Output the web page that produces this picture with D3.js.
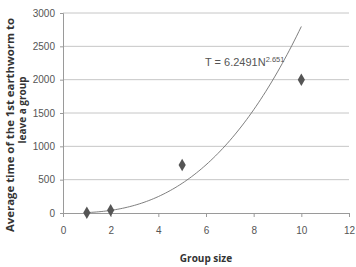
<!DOCTYPE html>
<html>
<head>
<meta charset="utf-8">
<script src="https://cdn.jsdelivr.net/npm/d3@7/dist/d3.min.js"></script>
<style>
  body { margin: 0; background: #fff; }
  text { font-family: "Liberation Sans", Arial, sans-serif; }
</style>
</head>
<body>
<svg id="chart" width="356" height="267"></svg>
<script>
// data
var groupSize = [1, 2, 5, 10];
var avgTime = [5, 40, 720, 2000];
var xTicks = [0, 2, 4, 6, 8, 10, 12];
var yTicks = [0, 500, 1000, 1500, 2000, 2500, 3000];
// power fit T = a * N^b
var fitA = 6.2491;
var fitB = 2.651;
var fitRange = [1, 10];

var svg = d3.select("#chart");

var x = d3.scaleLinear().domain([0, 12]).range([63, 349]);
var y = d3.scaleLinear().domain([0, 3000]).range([213, 13]);

// gridlines
svg.selectAll("line.grid")
   .data(yTicks.slice(1))
   .enter()
   .append("line")
   .attr("class", "grid")
   .attr("x1", x(0)).attr("x2", x(12))
   .attr("y1", function(d) { return y(d); })
   .attr("y2", function(d) { return y(d); })
   .attr("stroke", "#c6c6c6")
   .attr("stroke-width", 1);

// y axis
var yAxis = svg.append("g")
   .attr("transform", "translate(" + x(0) + ",0)")
   .call(d3.axisLeft(y).tickValues(yTicks).tickFormat(d3.format("d")).tickSize(3).tickPadding(5));
yAxis.select(".domain").attr("stroke", "#9a9a9a");
yAxis.selectAll(".tick line").attr("stroke", "#9a9a9a");
yAxis.selectAll("text").attr("fill", "#555").style("font-size", "10px")
     .style("font-family", "Liberation Sans, Arial, sans-serif");

// x axis
var xAxis = svg.append("g")
   .attr("transform", "translate(0," + y(0) + ")")
   .call(d3.axisBottom(x).tickValues(xTicks).tickFormat(d3.format("d")).tickSize(4).tickPadding(10));
xAxis.select(".domain").attr("stroke", "#9a9a9a");
xAxis.selectAll(".tick line").attr("stroke", "#9a9a9a");
xAxis.selectAll("text").attr("fill", "#555").style("font-size", "10px")
     .style("font-family", "Liberation Sans, Arial, sans-serif");

// fitted curve
var curvePts = [];
for (var n = fitRange[0]; n <= fitRange[1] + 1e-9; n += 0.1) {
    curvePts.push([n, fitA * Math.pow(n, fitB)]);
}
svg.append("path")
   .datum(curvePts)
   .attr("fill", "none")
   .attr("stroke", "#707070")
   .attr("stroke-width", 0.9)
   .attr("d", d3.line()
       .x(function(d) { return x(d[0]); })
       .y(function(d) { return y(d[1]); }));

// points
svg.selectAll("path.pt")
   .data(groupSize)
   .enter()
   .append("path")
   .attr("class", "pt")
   .attr("d", d3.symbol().type(d3.symbolDiamond).size(45))
   .attr("transform", function(d, i) {
       return "translate(" + x(d) + "," + y(avgTime[i]) + ")";
   })
   .attr("fill", "#555");

// equation
var eq = svg.append("text")
   .attr("x", 205).attr("y", 66)
   .attr("fill", "#555")
   .style("font-size", "11px");
eq.append("tspan").text("T = " + fitA + "N");
eq.append("tspan").attr("dy", -4).style("font-size", "7.5px").text(fitB);

// axis titles
svg.append("text")
   .attr("x", 206).attr("y", 262)
   .attr("text-anchor", "middle")
   .attr("fill", "#333")
   .style("font-size", "10px")
   .style("font-weight", "bold")
   .style("font-family", "Open Sans, sans-serif")
   .text("Group size");

svg.append("text")
   .attr("transform", "translate(14,125) rotate(-90)")
   .attr("text-anchor", "middle")
   .attr("textLength", 214)
   .attr("lengthAdjust", "spacingAndGlyphs")
   .attr("fill", "#333")
   .style("font-size", "10px")
   .style("font-weight", "bold")
   .style("font-family", "Open Sans, sans-serif")
   .text("Average time of the 1st earthworm to");

svg.append("text")
   .attr("transform", "translate(26,110) rotate(-90)")
   .attr("text-anchor", "middle")
   .attr("fill", "#333")
   .style("font-size", "10px")
   .style("font-weight", "bold")
   .style("font-family", "Open Sans, sans-serif")
   .text("leave a group");
</script>
</body>
</html>
